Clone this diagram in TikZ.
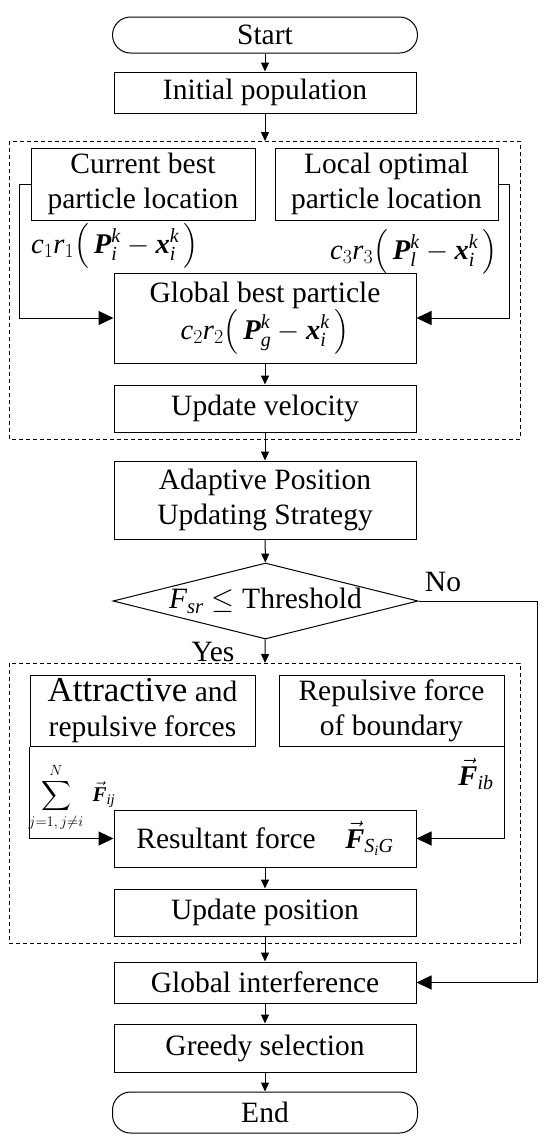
\RequirePackage{fix-cm}
\documentclass[tikz,border=0pt]{standalone}
\usepackage{amsmath}
\usepackage{fontspec}
\setmainfont{Liberation Serif}
\usetikzlibrary{arrows.meta,shapes.geometric}
\newcommand{\mi}[1]{\textit{#1}}
\newcommand{\mbi}[1]{\textbf{\textit{#1}}}
\newcommand{\fsmain}{\fontsize{29.5}{35}\selectfont}
\newcommand{\fsmath}{\fontsize{28.5}{32}\selectfont}
\newcommand{\fssmall}{\fontsize{21}{24}\selectfont}
\begin{document}
\begin{tikzpicture}[x=1pt,y=-1pt,
  box/.style={draw, line width=1pt, inner sep=0pt, align=center, font=\fsmain},
  flow/.style={line width=1pt, -{Triangle[length=9pt,width=8pt]}},
  side/.style={line width=1pt, -{Triangle[length=15pt,width=14pt]}},
  dbox/.style={draw, line width=0.8pt, dash pattern=on 4pt off 3pt},
  lbl/.style={font=\fsmain, inner sep=0pt},
  mlbl/.style={font=\fsmath, inner sep=0pt}]
\useasboundingbox (0,0) rectangle (550,1144);

% dashed group boxes
\draw[dbox] (9,141) rectangle (520,439);
\draw[dbox] (9,663) rectangle (520,943);
\coordinate (d1top) at (265,141);
\coordinate (d2top) at (265,663);

% main column
\node[box, rounded corners=18pt, minimum width=305pt, minimum height=36pt] (start) at (265,35) {Start};
\node[box, minimum width=302pt, minimum height=41pt] (init) at (265,92.5) {Initial population};

\node[box, minimum width=224pt, minimum height=72pt] (cb) at (143,184) {Current best\\particle location};
\node[box, minimum width=223pt, minimum height=72pt] (lo) at (386.5,184) {Local optimal\\particle location};
\node[mlbl] (c1) at (115,246) {$\mi{c}_1\mi{r}_1\bigl(\,\mbi{P}_{\mi{i}}^{\mi{k}}-\mbi{x}_{\mi{i}}^{\mi{k}}\,\bigr)$};
\node[mlbl] (c3) at (414,252) {$\mi{c}_3\mi{r}_3\bigl(\,\mbi{P}_{\mi{l}}^{\mi{k}}-\mbi{x}_{\mi{i}}^{\mi{k}}\,\bigr)$};
\node[box, minimum width=302pt, minimum height=90pt] (gb) at (265,318) {Global best particle\\{\fsmath$\mi{c}_2\mi{r}_2\bigl(\,\mbi{P}_{\mi{g}}^{\mi{k}}-\mbi{x}_{\mi{i}}^{\mi{k}}\,\bigr)$}};
\node[box, minimum width=302pt, minimum height=47pt] (uv) at (265,408.5) {Update velocity};
\node[box, minimum width=302pt, minimum height=78pt] (ap) at (265,500) {Adaptive Position\\Updating Strategy};
\node[diamond, draw, line width=1pt, inner sep=0pt, aspect=4, minimum width=305pt, minimum height=76pt, font=\fsmain] (dec) at (265.5,601) {$\mi{F}_{\mi{sr}}\leq$ Threshold};
\node[lbl] (no) at (443,582) {No};
\node[lbl] (yes) at (213,652) {Yes};

\node[box, minimum width=225pt, minimum height=71pt] (ar) at (142.5,710.5) {{\fontsize{35}{35}\selectfont Attractive} and\\repulsive forces};
\node[box, minimum width=225pt, minimum height=71pt] (rf) at (391.5,710.5) {Repulsive force\\of boundary};
\node[inner sep=0pt, font=\fssmall] (sum) at (72,797) {$\displaystyle\sum_{j=1,\,j\neq i}^{N}\;\vec{\mbi{F}}_{\mi{ij}}$};
\node[mlbl] (fib) at (476,774) {$\vec{\mbi{F}}_{\mi{ib}}$};
\node[box, minimum width=302pt, minimum height=57pt] (rs) at (265,838.5) {Resultant force\quad{\fsmath$\vec{\mbi{F}}_{\mi{S}_{\mi{i}}\mi{G}}$}};
\node[box, minimum width=302pt, minimum height=47pt] (up) at (265,912.5) {Update position};
\node[box, minimum width=302pt, minimum height=41pt] (gi) at (265,982.5) {Global interference};
\node[box, minimum width=302pt, minimum height=48pt] (gs) at (265,1048) {Greedy selection};
\node[box, rounded corners=18pt, minimum width=305pt, minimum height=41pt] (end) at (265,1112.5) {End};

% connectors
\draw[flow] (start) -- (init);
\draw[flow] (init) -- (d1top);
\draw[side] (cb.west) -- ++(-11,0) |- (gb.west);
\draw[side] (lo.east) -- ++(11,0) |- (gb.east);
\draw[flow] (gb) -- (uv);
\draw[flow] (uv) -- (ap);
\draw[flow] (ap) -- (dec);
\draw[flow] (dec) -- (d2top);
\draw[side] (ar.south west) |- (rs.west);
\draw[side] (rf.south east) |- (rs.east);
\draw[flow] (rs) -- (up);
\draw[flow] (up) -- (gi);
\draw[side] (dec.east) -- (537,601) |- (gi.east);
\draw[flow] (gi) -- (gs);
\draw[flow] (gs) -- (end);
\end{tikzpicture}
\end{document}
